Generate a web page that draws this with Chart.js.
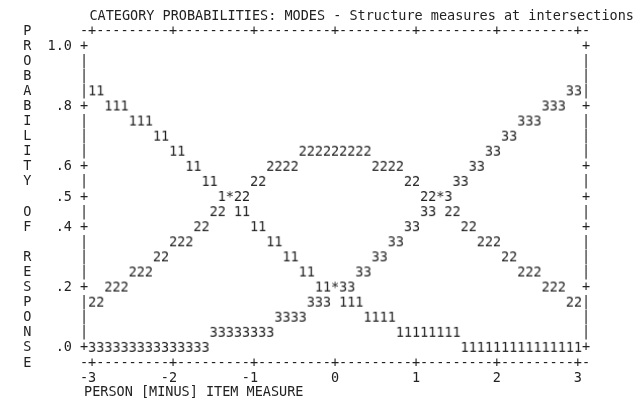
<!DOCTYPE html>
<html>
<head>
<meta charset="utf-8">
<title>Category probabilities</title>
<script src="https://cdn.jsdelivr.net/npm/chart.js@4.4.0/dist/chart.umd.min.js"></script>
<style>
  body { margin: 0; background: #fff; }
  #chart { display: block; }
</style>
</head>
<body>
<canvas id="chart" width="640" height="400"></canvas>
<script>
// one value per text column, measure -3.0 .. 3.0 in steps of 0.1
let measures = []
for (let c = 0; c <= 60; c++) measures.push((c - 30) / 10)

// probabilities (rows are 0.05 apart)
let cat1 = [.85,.85, .80,.80,.80, .75,.75,.75, .70,.70, .65,.65, .60,.60, .55,.55,
  .50,.50, .45,.45, .40,.40, .35,.35, .30,.30, .25,.25, .20,.20,.20, .15,.15,.15,
  .10,.10,.10,.10, .05,.05,.05,.05,.05,.05,.05,.05,
  0,0,0,0,0,0,0,0,0,0,0,0,0,0,0]
let cat2 = [.15,.15, .20,.20,.20, .25,.25,.25, .30,.30, .35,.35,.35, .40,.40, .45,.45,
  .50,.50,.50, .55,.55, .60,.60,.60,.60, .65,.65,.65,.65,.65,.65,.65,.65,.65,
  .60,.60,.60,.60, .55,.55, .50,.50,.50, .45,.45, .40,.40, .35,.35,.35, .30,.30,
  .25,.25,.25, .20,.20,.20, .15,.15]
let cat3 = [0,0,0,0,0,0,0,0,0,0,0,0,0,0,0,
  .05,.05,.05,.05,.05,.05,.05,.05, .10,.10,.10,.10, .15,.15,.15, .20,.20,.20,
  .25,.25, .30,.30, .35,.35, .40,.40, .45,.45, .50,.50, .55,.55, .60,.60, .65,.65,
  .70,.70, .75,.75,.75, .80,.80,.80, .85,.85]

let categoryMarks = ['1', '2', '3']
let rowLetters = ['P','R','O','B','A','B','I','L','I','T','Y',' ','O','F',' ','R','E','S','P','O','N','S','E']
let yTickValues = [1.0, 0.8, 0.6, 0.5, 0.4, 0.2, 0.0]
let yTickLabels = ['1.0', '.8', '.6', '.5', '.4', '.2', '.0']
let xTickValues = [-3, -2, -1, 0, 1, 2, 3]
let xTickLabels = ['-3', '-2', '-1', '0', '1', '2', '3']

const INK = '#222'
const MONO = "'DejaVu Sans Mono', 'Liberation Mono', monospace"
const font = { family: MONO, size: 13.5, weight: 'normal', lineHeight: 15 / 13.5 }
const fontCss = '13.5px ' + MONO

// rows go from 1.05 (top border) down to -0.05 (bottom border)
let rowValues = rowLetters.map((l, r) => (21 - r) / 20)

function rowText(value) {
  let r = Math.round(21 - value * 20)
  let k = yTickValues.indexOf((21 - r) / 20)
  let num = k >= 0 ? yTickLabels[k] : ''
  return rowLetters[r] + '  ' + num.padStart(3, ' ')
}

function glyph(ch) {
  let cv = document.createElement('canvas')
  cv.width = 10
  cv.height = 16
  let g = cv.getContext('2d')
  g.font = fontCss
  g.fillStyle = INK
  g.textAlign = 'center'
  g.textBaseline = 'middle'
  g.fillText(ch, 5, 8)
  return cv
}
let glyphs = categoryMarks.map(glyph)
let star = glyph('*')

let series = [cat1, cat2, cat3]
function shared(k, i) {
  return series.some((s, j) => j !== k && s[i] === series[k][i])
}
function firstOnCell(k, i) {
  return series.findIndex(s => s[i] === series[k][i]) === k
}

// ascii frame: | and + down the sides, -+----- along top and bottom
const asciiFrame = {
  id: 'asciiFrame',
  beforeDatasetsDraw(chart) {
    const { ctx, scales: { x, y } } = chart
    ctx.save()
    ctx.font = fontCss
    ctx.fillStyle = INK
    ctx.textAlign = 'center'
    ctx.textBaseline = 'middle'
    let left = x.getPixelForValue(-3.1), right = x.getPixelForValue(3.1)
    rowValues.forEach((v, r) => {
      if (r === 0 || r === rowValues.length - 1) return
      let ch = yTickValues.indexOf(v) >= 0 ? '+' : '|'
      let py = y.getPixelForValue(v)
      ctx.fillText(ch, left, py)
      ctx.fillText(ch, right, py)
    })
    let top = y.getPixelForValue(rowValues[0])
    let bottom = y.getPixelForValue(rowValues[rowValues.length - 1])
    for (let c = -1; c <= 61; c++) {
      let v = (c - 30) / 10
      let ch = xTickValues.indexOf(v) >= 0 ? '+' : '-'
      let px = x.getPixelForValue(v)
      ctx.fillText(ch, px, top)
      ctx.fillText(ch, px, bottom)
    }
    ctx.restore()
  }
}

let ctx = document.getElementById('chart').getContext('2d')
let myChart = new Chart(ctx, {
  type: 'scatter',
  data: {
    datasets: series.map((s, k) => ({
      label: 'Category ' + categoryMarks[k],
      data: measures.map((m, i) => ({ x: m, y: s[i] })),
      pointStyle: c => shared(k, c.dataIndex) ? star : glyphs[k],
      pointRadius: c => firstOnCell(k, c.dataIndex) ? 4 : 0
    }))
  },
  options: {
    responsive: false,
    animation: false,
    events: [],
    plugins: {
      legend: { display: false },
      tooltip: { enabled: false },
      title: {
        display: true,
        align: 'start',
        text: '           CATEGORY PROBABILITIES: MODES - Structure measures at intersections',
        color: INK,
        font: font,
        padding: { top: 9, bottom: 7 }
      }
    },
    scales: {
      x: {
        type: 'linear',
        min: -3.1,
        max: 3.1,
        afterBuildTicks: s => { s.ticks = xTickValues.map(v => ({ value: v })) },
        afterFit: s => { s.height = 37 },
        grid: { display: false, drawTicks: false },
        border: { display: false },
        ticks: {
          autoSkip: false,
          maxRotation: 0,
          padding: 7.5,
          color: INK,
          font: font,
          callback: v => {
            let t = xTickLabels[xTickValues.indexOf(v)]
            return t.length > 1 ? t + ' ' : ' ' + t + ' '
          }
        },
        title: {
          display: true,
          align: 'start',
          text: 'PERSON [MINUS] ITEM MEASURE',
          color: INK,
          font: font,
          padding: { top: 0, bottom: 0 }
        }
      },
      y: {
        type: 'linear',
        min: -0.05,
        max: 1.05,
        afterBuildTicks: s => { s.ticks = rowValues.slice().reverse().map(v => ({ value: v })) },
        afterFit: s => { s.width = 84 },
        grid: { display: false, drawTicks: false },
        border: { display: false },
        ticks: {
          autoSkip: false,
          padding: 12,
          color: INK,
          font: font,
          callback: v => rowText(v)
        }
      },
      // empty strip on the right so the title is not squeezed
      right: {
        type: 'linear',
        position: 'right',
        afterFit: s => { s.width = 54 },
        grid: { display: false, drawTicks: false },
        border: { display: false },
        ticks: { display: false }
      }
    }
  },
  plugins: [asciiFrame]
})
</script>
</body>
</html>
